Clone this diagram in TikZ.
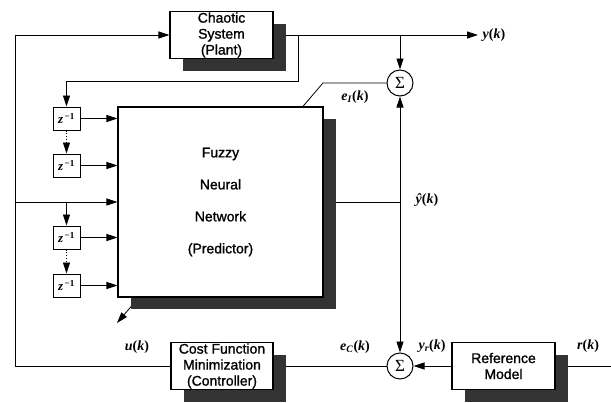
\documentclass[tikz,border=0pt]{standalone}
\usepackage{fontspec}
\setmainfont{Liberation Sans}
\newfontfamily\boxfont[FakeBold=1.2]{Liberation Sans}
\newfontfamily\lblfont{Liberation Serif}
\usetikzlibrary{arrows.meta,shadows,backgrounds}
\begin{document}
\begin{tikzpicture}[x=1pt,y=-1pt,
 block/.style={draw,line width=1.1pt,fill=white,align=center,inner sep=0pt,
   font=\boxfont\fontsize{14}{16}\selectfont,
   drop shadow={shadow xshift=13pt,shadow yshift=-12pt,fill=black!80,opacity=1}},
 zbox/.style={draw,line width=1pt,fill=white,minimum width=27pt,minimum height=23pt,inner sep=0pt,
   font=\lblfont\bfseries\fontsize{13}{13}\selectfont},
 sum/.style={circle,draw,line width=1pt,fill=white,minimum size=26pt,inner sep=0pt,
   font=\lblfont\fontsize{17}{17}\selectfont},
 conn/.style={line width=0.8pt},
 arr/.style={conn,-{Triangle[length=11pt,width=7pt]}},
 lbl/.style={font=\lblfont\bfseries\fontsize{14}{14}\selectfont,inner sep=0pt}]
\useasboundingbox (0,0) rectangle (611,402);
% blocks
\node[block,minimum width=103pt,minimum height=47pt] (plant) at (221.5,35) {Chaotic\\System\\(Plant)};
\node[block,minimum width=205pt,minimum height=190pt,font=\boxfont\fontsize{14}{32}\selectfont] (fnn) at (220.5,202) {Fuzzy\\Neural\\Network\\(Predictor)};
\node[block,minimum width=102pt,minimum height=47pt] (cost) at (222,366) {Cost Function\\Minimization\\(Controller)};
\node[block,minimum width=103pt,minimum height=47pt] (ref) at (503.5,366) {Reference\\Model};
\node[zbox] (z1) at (66.5,118.5) {\textit{z}\textsuperscript{\,−1}};
\node[zbox] (z2) at (66.5,165.5) {\textit{z}\textsuperscript{\,−1}};
\node[zbox] (z3) at (66.5,237.5) {\textit{z}\textsuperscript{\,−1}};
\node[zbox] (z4) at (66.5,285.5) {\textit{z}\textsuperscript{\,−1}};
\node[sum] (s1) at (400,83) {Σ};
\node[sum] (s2) at (400,366) {Σ};
% coordinates
\coordinate (bl) at (15,366);
\coordinate (tl) at (15,35);
\coordinate (uj) at (15,202);
\coordinate (ub) at (66.5,202);
\coordinate (pj) at (298,35);
\coordinate (pc) at (298,81);
\coordinate (pz) at (66.5,81);
\coordinate (yj) at (400,35);
\coordinate (yend) at (478,35);
\coordinate (hj) at (400,202);
\coordinate (ec) at (323,83);
\coordinate (dend) at (117,323);
\coordinate (rin) at (611,366);
% connectors
\begin{pgfonlayer}{background}
\draw[arr] (cost.west) -- (bl) -- (tl) -- (plant.west);
\draw[arr] (plant.east) -- (yend);
\draw[arr] (yj) -- (s1.north);
\draw[arr] (pj) -- (pc) -- (pz) -- (z1.north);
\draw[arr] (uj) -- (fnn.west |- uj);
\draw[arr] (ub) -- (z3.north);
\draw[arr,dotted] (z1.south) -- (z2.north);
\draw[arr,dotted] (z3.south) -- (z4.north);
\draw[arr] (z1.east) -- (fnn.west |- z1.east);
\draw[arr] (z2.east) -- (fnn.west |- z2.east);
\draw[arr] (z3.east) -- (fnn.west |- z3.east);
\draw[arr] (z4.east) -- (fnn.west |- z4.east);
\draw[conn] (fnn.east) -- (hj);
\draw[arr] (hj) -- (s1.south);
\draw[arr] (hj) -- (s2.north);
\draw[arr] (s1.west) -- (ec) -- (dend);
\draw[arr] (ref.west) -- (s2.east);
\draw[arr] (s2.west) -- (cost.east);
\draw[arr] (rin) -- (ref.east);
\end{pgfonlayer}
% labels
\node[lbl] (ly) at (494,35) {\textit{y}(\textit{k})};
\node[lbl] (le) at (355,97) {\textit{e}\textsubscript{\textit{I}}(\textit{k})};
\node[lbl] (lh) at (427,200) {\textit{ŷ}(\textit{k})};
\node[lbl] (lu) at (137,347) {\textit{u}(\textit{k})};
\node[lbl] (lc) at (355,347) {\textit{e}\textsubscript{\textit{C}}(\textit{k})};
\node[lbl] (lr) at (432,346) {\textit{y}\textsubscript{\textit{r}}(\textit{k})};
\node[lbl] (lrk) at (588,346) {\textit{r}(\textit{k})};
\end{tikzpicture}
\end{document}
